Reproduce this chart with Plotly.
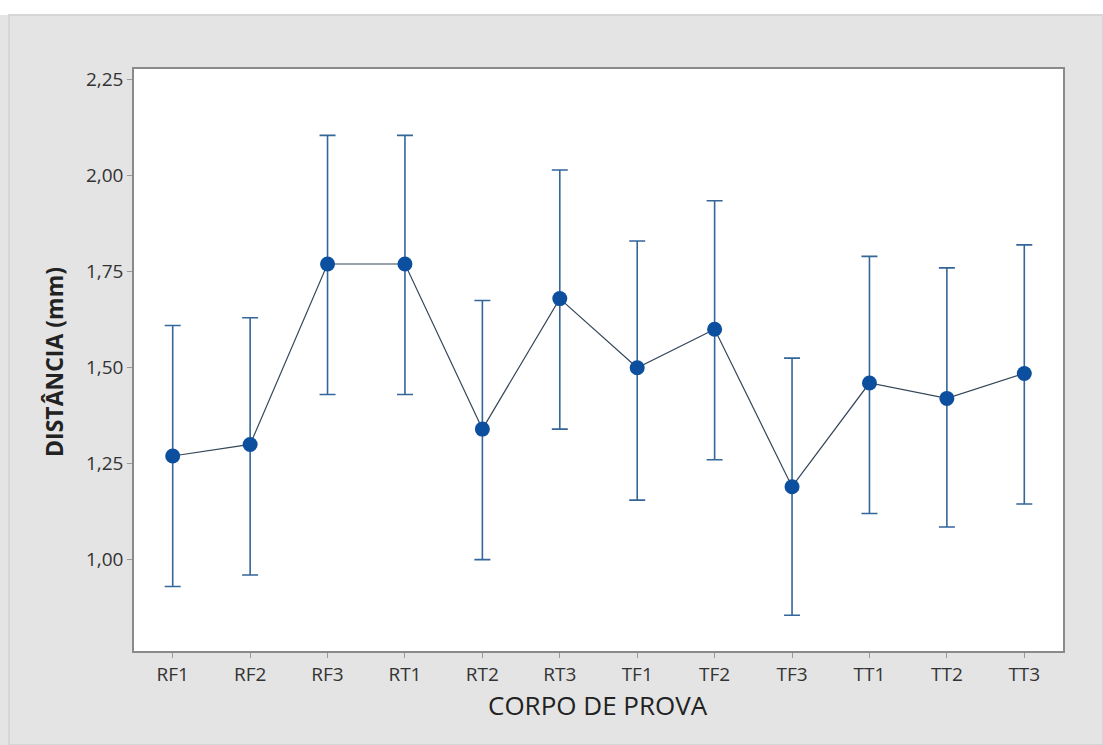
import plotly.graph_objects as go

categories = ["RF1", "RF2", "RF3", "RT1", "RT2", "RT3", "TF1", "TF2", "TF3", "TT1", "TT2", "TT3"]
means = [1.27, 1.30, 1.77, 1.77, 1.34, 1.68, 1.50, 1.60, 1.19, 1.46, 1.42, 1.485]
upper = [1.61, 1.63, 2.105, 2.105, 1.675, 2.015, 1.83, 1.935, 1.525, 1.79, 1.76, 1.82]
lower = [0.93, 0.96, 1.43, 1.43, 1.00, 1.34, 1.155, 1.26, 0.855, 1.12, 1.085, 1.145]
y_ticks = [1.00, 1.25, 1.50, 1.75, 2.00, 2.25]

err_plus = [u - m for u, m in zip(upper, means)]
err_minus = [m - l for m, l in zip(means, lower)]

fig = go.Figure()
fig.add_trace(go.Scatter(
    x=categories, y=means, mode="lines+markers",
    line=dict(color="#34465a", width=1.2),
    marker=dict(color="#0b4f9e", size=15, line=dict(width=0)),
    error_y=dict(type="data", symmetric=False, array=err_plus, arrayminus=err_minus,
                 color="#336699", thickness=1.6, width=8),
    showlegend=False,
))

font_family = "Open Sans, Noto Sans, DejaVu Sans, sans-serif"

fig.update_layout(
    width=1103, height=745,
    margin=dict(l=134, r=40, t=69, b=94),
    paper_bgcolor="white",
    plot_bgcolor="white",
    separators=",.",
    font=dict(family=font_family, size=19, color="#333333"),
    shapes=[
        dict(type="rect", xref="paper", yref="paper", layer="below",
             x0=-134/929, x1=(1103-134)/929, y0=-94/582, y1=(745-94-15)/582,
             fillcolor="#e4e4e4", line=dict(width=0)),
        dict(type="rect", xref="paper", yref="paper", layer="below",
             x0=-125/929, x1=(1103-134)/929, y0=-94/582, y1=(745-94-15)/582,
             fillcolor="rgba(0,0,0,0)", line=dict(width=2, color="#d6d6d6")),
        dict(type="rect", xref="paper", yref="paper", layer="below",
             x0=0, x1=1, y0=0, y1=1, fillcolor="white", line=dict(width=0)),
    ],
    annotations=[
        dict(text="CORPO DE PROVA", xref="paper", yref="paper",
             x=(598-134)/929, y=-(705-651)/582, xanchor="center", yanchor="middle",
             showarrow=False, font=dict(size=26, color="#222222")),
        dict(text="<b>DISTÂNCIA (mm)</b>", xref="paper", yref="paper",
             x=-(134-54)/929, y=(651-362)/582, xanchor="center", yanchor="middle",
             textangle=-90, showarrow=False, font=dict(size=23, color="#222222")),
    ],
)

fig.update_xaxes(
    type="category", range=[-0.5, 11.5],
    showline=True, linecolor="#8a8a8a", linewidth=1.5, mirror=True,
    ticks="outside", ticklen=5, tickcolor="#9a9a9a",
    showgrid=False, zeroline=False,
    tickfont=dict(size=19, color="#333333"),
)
fig.update_yaxes(
    range=[0.762, 2.278], tickvals=y_ticks, tickformat=".2f",
    showline=True, linecolor="#8a8a8a", linewidth=1.5, mirror=True,
    ticks="outside", ticklen=5, tickcolor="#9a9a9a",
    showgrid=False, zeroline=False,
    tickfont=dict(size=19, color="#333333"),
)

fig.write_html("out.html")
